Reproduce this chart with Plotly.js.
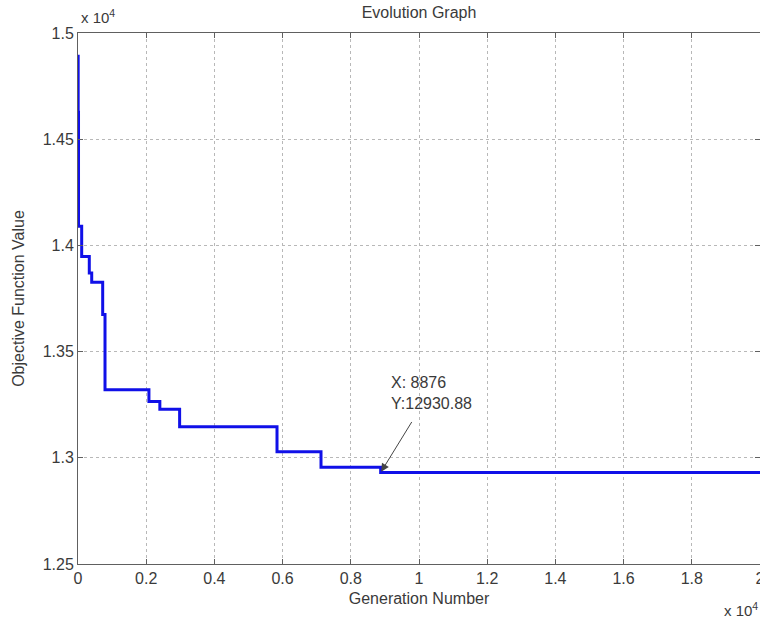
<!DOCTYPE html>
<html>
<head>
<meta charset="utf-8">
<script src="https://cdn.plot.ly/plotly-3.0.1.min.js"></script>
<style>
html,body{margin:0;padding:0;overflow:hidden;background:#fff;width:760px;height:621px;}
#chart{width:780px;height:621px;}
</style>
</head>
<body>
<div id="chart"></div>
<script>
// Generation number where the best value changes, and the best objective value from there on
const generations = [0, 5, 15, 108, 331, 402, 724, 792, 2080, 2400, 2980, 5836, 7126, 8876, 20000];
const objectiveValues = [14890, 14627, 14090, 13948, 13870, 13826, 13675, 13320, 13265, 13228, 13146, 13028, 12955, 12930.88, 12930.88];

const xTickVals = [0, 2000, 4000, 6000, 8000, 10000, 12000, 14000, 16000, 18000, 20000];
const xTickText = ['0', '0.2', '0.4', '0.6', '0.8', '1', '1.2', '1.4', '1.6', '1.8', '2'];
const yTickVals = [12500, 13000, 13500, 14000, 14500, 15000];
const yTickText = ['1.25', '1.3', '1.35', '1.4', '1.45', '1.5'];

const tipX = 8876;
const tipY = 12930.88;

const W = 780, H = 621;
const L = 78, R = 20, T = 33, B = 57;
const pw = W - L - R, ph = H - T - B;
const textColor = '#3a3a3a';
const fontFam = 'Liberation Sans, Arial, sans-serif';
const fs = 16;

const trace = {
  x: generations,
  y: objectiveValues,
  type: 'scatter',
  mode: 'lines',
  line: {shape: 'hv', color: '#1010e8', width: 3},
  hoverinfo: 'skip'
};

const axisCommon = {
  showline: true,
  linecolor: '#606060',
  linewidth: 1,
  mirror: 'allticks',
  ticks: 'inside',
  ticklen: 5,
  tickcolor: '#606060',
  showgrid: true,
  gridcolor: '#b8b8b8',
  griddash: 'dot',
  gridwidth: 1,
  zeroline: false,
  tickfont: {family: fontFam, size: fs, color: textColor},
  tickmode: 'array'
};

const layout = {
  width: W,
  height: H,
  margin: {l: L, r: R, t: T, b: B, pad: 0},
  paper_bgcolor: '#ffffff',
  plot_bgcolor: '#ffffff',
  showlegend: false,
  title: {
    text: 'Evolution Graph',
    font: {family: fontFam, size: fs, color: textColor},
    x: (L + pw / 2) / W, xanchor: 'center', xref: 'container',
    y: 1 - 12 / H, yanchor: 'middle', yref: 'container'
  },
  xaxis: Object.assign({}, axisCommon, {
    range: [0, 20000],
    tickvals: xTickVals,
    ticktext: xTickText,
    title: {text: 'Generation Number', font: {family: fontFam, size: fs, color: textColor}, standoff: 6}
  }),
  yaxis: Object.assign({}, axisCommon, {
    range: [12500, 15000],
    tickvals: yTickVals,
    ticktext: yTickText,
    title: {text: 'Objective Function Value', font: {family: fontFam, size: fs, color: textColor}, standoff: 14}
  }),
  annotations: [
    {
      xref: 'paper', yref: 'paper',
      x: 0.002, y: 1 + 16 / ph,
      xanchor: 'left', yanchor: 'middle',
      text: 'x 10<sup>4</sup>', showarrow: false,
      font: {family: fontFam, size: fs - 1, color: textColor}
    },
    {
      xref: 'paper', yref: 'paper',
      x: (722 - L) / pw, y: -45 / ph,
      xanchor: 'left', yanchor: 'middle',
      text: 'x 10<sup>4</sup>', showarrow: false,
      font: {family: fontFam, size: fs - 1, color: textColor}
    },
    {
      xref: 'x', yref: 'y',
      x: tipX, y: tipY,
      ax: 32, ay: -52,
      text: '',
      showarrow: true,
      arrowhead: 2, arrowsize: 1.6, arrowwidth: 1, arrowcolor: '#454545',
      standoff: 1
    },
    {
      xref: 'x', yref: 'y',
      x: tipX, y: tipY,
      xshift: 8, yshift: 58,
      xanchor: 'left', yanchor: 'bottom',
      align: 'left',
      text: 'X: ' + tipX + '<br>Y:' + tipY.toFixed(2),
      showarrow: false,
      font: {family: fontFam, size: fs, color: textColor}
    }
  ]
};

Plotly.newPlot('chart', [trace], layout, {displayModeBar: false, staticPlot: true});
</script>
</body>
</html>
